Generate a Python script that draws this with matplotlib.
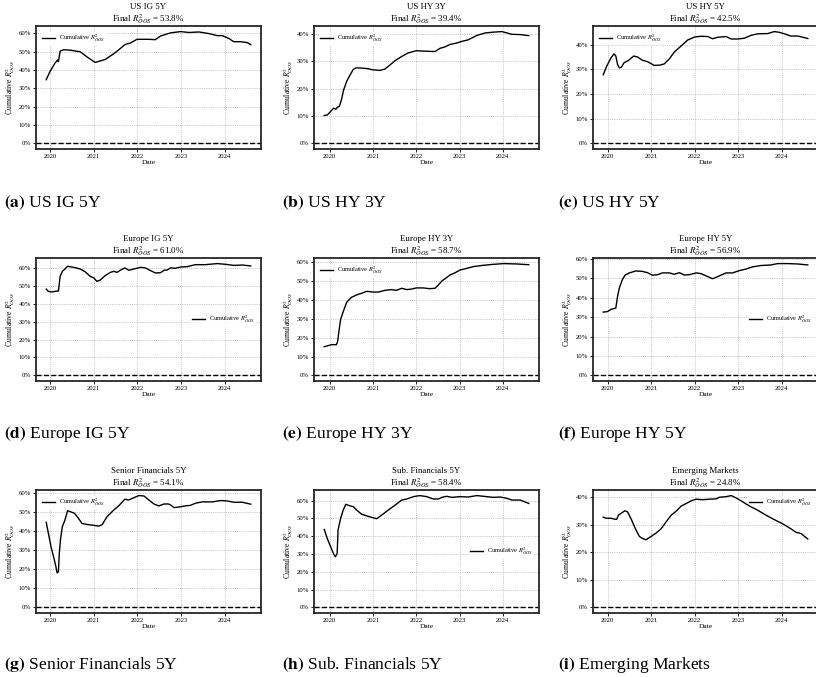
import matplotlib
matplotlib.use("Agg")
import matplotlib.pyplot as plt
import matplotlib.dates as mdates
from matplotlib.ticker import MultipleLocator, PercentFormatter
import pandas as pd

plt.rcParams['font.family'] = ['Liberation Serif', 'DejaVu Serif']
plt.rcParams['mathtext.fontset'] = 'stix'

# dates as decimal years, values as cumulative R2 in %
us_ig5_t = [2019.91, 2020.0, 2020.10, 2020.17, 2020.19, 2020.23, 2020.31, 2020.46, 2020.69, 2020.84,
            2021.03, 2021.26, 2021.49, 2021.72, 2021.84, 2021.99, 2022.26, 2022.41, 2022.53, 2022.76,
            2022.99, 2023.18, 2023.41, 2023.64, 2023.83, 2023.95, 2024.10, 2024.21, 2024.37, 2024.52, 2024.60]
us_ig5_r = [34.7, 39.3, 43.3, 45.5, 44.6, 50.3, 51.0, 50.8, 49.9, 47.2,
            44.1, 45.7, 49.4, 53.9, 54.7, 56.7, 56.7, 56.5, 58.5, 60.2,
            60.9, 60.4, 60.7, 59.8, 58.7, 58.7, 57.1, 55.4, 55.4, 54.9, 53.8]

us_hy3_t = [2019.87, 2019.94, 2020.02, 2020.09, 2020.14, 2020.18, 2020.22, 2020.27, 2020.32, 2020.39,
            2020.46, 2020.54, 2020.60, 2020.69, 2020.85, 2021.0, 2021.16, 2021.27, 2021.39, 2021.51,
            2021.66, 2021.81, 2022.0, 2022.24, 2022.43, 2022.55, 2022.66, 2022.78, 2022.93, 2023.05,
            2023.2, 2023.4, 2023.59, 2023.78, 2023.98, 2024.05, 2024.21, 2024.41, 2024.60]
us_hy3_r = [10.2, 10.4, 11.7, 12.9, 12.5, 13.3, 13.5, 16.0, 19.6, 22.7,
            24.8, 27.0, 27.6, 27.6, 27.4, 26.9, 26.7, 27.2, 28.7, 30.3,
            31.8, 33.1, 33.9, 33.7, 33.6, 34.8, 35.3, 36.2, 36.7, 37.3,
            37.9, 39.5, 40.4, 40.7, 40.9, 40.6, 39.9, 39.8, 39.4]

us_hy5_t = [2019.90, 2019.98, 2020.08, 2020.15, 2020.19, 2020.23, 2020.27, 2020.32, 2020.38, 2020.48,
            2020.60, 2020.69, 2020.80, 2020.92, 2021.07, 2021.19, 2021.30, 2021.42, 2021.53, 2021.69,
            2021.84, 2022.0, 2022.15, 2022.30, 2022.41, 2022.53, 2022.72, 2022.84, 2022.99, 2023.14,
            2023.30, 2023.45, 2023.68, 2023.83, 2023.95, 2024.10, 2024.21, 2024.37, 2024.60]
us_hy5_r = [27.8, 31.3, 34.7, 36.3, 35.4, 32.0, 30.6, 30.9, 32.7, 33.6,
            35.4, 35.0, 33.7, 33.1, 31.6, 31.7, 32.2, 34.3, 37.0, 39.5,
            41.9, 43.1, 43.4, 43.3, 42.4, 43.0, 43.3, 42.3, 42.3, 42.6,
            43.8, 44.4, 44.5, 45.3, 45.0, 44.2, 43.5, 43.5, 42.5]

eu_ig5_t = [2019.91, 2019.96, 2020.04, 2020.15, 2020.19, 2020.23, 2020.28, 2020.34, 2020.40, 2020.54,
            2020.69, 2020.80, 2020.92, 2021.0, 2021.07, 2021.15, 2021.26, 2021.38, 2021.46, 2021.53,
            2021.63, 2021.71, 2021.80, 2021.92, 2022.07, 2022.18, 2022.30, 2022.41, 2022.53, 2022.61,
            2022.68, 2022.76, 2022.87, 2022.99, 2023.14, 2023.33, 2023.56, 2023.83, 2024.02, 2024.21,
            2024.41, 2024.60]
eu_ig5_r = [48.1, 46.8, 46.5, 47.0, 47.0, 55.2, 58.0, 59.3, 60.8, 60.2,
            59.3, 57.8, 55.2, 54.3, 52.4, 53.2, 55.6, 57.4, 58.0, 57.4,
            58.9, 59.9, 58.6, 59.3, 60.2, 59.9, 58.4, 57.1, 57.2, 58.6,
            58.7, 59.9, 59.7, 60.4, 60.6, 61.7, 61.7, 62.3, 61.9, 61.3,
            61.5, 61.0]

eu_hy3_t = [2019.87, 2019.96, 2020.04, 2020.15, 2020.18, 2020.22, 2020.25, 2020.31, 2020.39, 2020.50,
            2020.62, 2020.73, 2020.85, 2021.0, 2021.12, 2021.27, 2021.43, 2021.54, 2021.66, 2021.78,
            2021.89, 2022.0, 2022.16, 2022.30, 2022.43, 2022.51, 2022.59, 2022.66, 2022.78, 2022.90,
            2023.01, 2023.17, 2023.32, 2023.55, 2023.78, 2024.02, 2024.32, 2024.60]
eu_hy3_r = [15.2, 15.8, 16.3, 16.3, 17.9, 25.0, 29.7, 33.8, 38.8, 41.4,
            42.7, 43.5, 44.6, 44.2, 44.2, 45.1, 45.5, 45.1, 46.2, 45.5,
            45.8, 46.4, 46.4, 46.0, 46.2, 48.0, 50.1, 51.2, 53.3, 54.5,
            55.9, 56.8, 57.7, 58.4, 58.9, 59.3, 59.1, 58.7]

eu_hy5_t = [2019.90, 2020.0, 2020.09, 2020.19, 2020.23, 2020.27, 2020.34, 2020.40, 2020.50, 2020.65,
            2020.80, 2020.92, 2021.03, 2021.15, 2021.26, 2021.42, 2021.53, 2021.65, 2021.76, 2021.88,
            2022.04, 2022.15, 2022.30, 2022.41, 2022.49, 2022.61, 2022.72, 2022.87, 2023.03, 2023.18,
            2023.33, 2023.52, 2023.75, 2023.91, 2024.14, 2024.37, 2024.60]
eu_hy5_r = [32.6, 32.9, 34.1, 34.7, 40.7, 45.0, 49.3, 51.6, 52.8, 53.8,
            53.6, 52.9, 51.6, 51.9, 52.8, 52.8, 52.1, 52.9, 51.7, 51.9,
            52.8, 52.4, 50.9, 49.8, 50.5, 51.7, 52.8, 52.8, 54.0, 54.8,
            55.9, 56.6, 56.9, 57.6, 57.6, 57.4, 56.9]

sen_fin_t = [2019.91, 2019.96, 2020.02, 2020.08, 2020.13, 2020.16, 2020.19, 2020.21, 2020.24, 2020.28,
             2020.34, 2020.40, 2020.46, 2020.56, 2020.65, 2020.73, 2020.84, 2021.0, 2021.11, 2021.19,
             2021.30, 2021.46, 2021.57, 2021.71, 2021.80, 2021.92, 2022.03, 2022.15, 2022.26, 2022.38,
             2022.49, 2022.61, 2022.71, 2022.76, 2022.84, 2022.95, 2023.10, 2023.22, 2023.33, 2023.49,
             2023.72, 2023.91, 2024.06, 2024.21, 2024.41, 2024.60]
sen_fin_r = [44.6, 38.8, 31.8, 26.5, 21.6, 18.1, 18.6, 28.2, 36.1, 42.3,
             45.8, 50.7, 50.2, 49.3, 46.7, 44.0, 43.5, 43.0, 42.6, 43.3,
             47.5, 51.1, 53.2, 56.7, 56.3, 57.5, 58.6, 58.4, 56.3, 54.2,
             53.2, 54.2, 54.2, 53.7, 52.3, 52.6, 53.2, 53.5, 54.6, 55.3,
             55.3, 56.0, 55.8, 55.1, 55.1, 54.1]

sub_fin_t = [2019.87, 2019.94, 2020.02, 2020.09, 2020.13, 2020.17, 2020.19, 2020.25, 2020.31, 2020.37,
             2020.46, 2020.54, 2020.62, 2020.73, 2020.89, 2021.0, 2021.08, 2021.20, 2021.35, 2021.51,
             2021.66, 2021.78, 2021.93, 2022.08, 2022.24, 2022.39, 2022.51, 2022.59, 2022.70, 2022.82,
             2023.01, 2023.20, 2023.40, 2023.63, 2023.78, 2023.94, 2024.09, 2024.21, 2024.40, 2024.60]
sub_fin_r = [43.8, 38.7, 34.0, 29.9, 28.4, 30.3, 43.4, 50.0, 54.7, 57.9,
             57.1, 56.6, 54.7, 52.4, 51.1, 50.4, 49.8, 51.9, 54.7, 57.5,
             60.3, 60.9, 62.2, 62.8, 62.2, 60.9, 60.9, 61.8, 62.4, 61.8,
             62.2, 62.0, 62.8, 62.2, 61.8, 62.0, 61.3, 60.3, 60.3, 58.4]

em_t = [2019.90, 2019.96, 2020.08, 2020.15, 2020.21, 2020.25, 2020.34, 2020.40, 2020.46, 2020.54,
        2020.64, 2020.73, 2020.80, 2020.88, 2021.0, 2021.11, 2021.23, 2021.34, 2021.46, 2021.57,
        2021.69, 2021.80, 2021.92, 2022.03, 2022.18, 2022.34, 2022.49, 2022.57, 2022.72, 2022.84,
        2022.91, 2023.07, 2023.26, 2023.45, 2023.64, 2023.83, 2024.02, 2024.21, 2024.33, 2024.44,
        2024.60]
em_r = [32.7, 32.3, 32.3, 32.0, 31.9, 33.4, 34.4, 35.0, 34.6, 32.1,
        28.5, 25.7, 25.0, 24.5, 25.7, 26.9, 28.5, 30.9, 33.4, 34.8,
        36.7, 37.6, 38.6, 39.2, 39.0, 39.2, 39.3, 39.9, 40.1, 40.5,
        40.0, 38.6, 36.7, 35.2, 33.4, 31.8, 30.3, 28.5, 27.2, 26.8,
        24.8]

names = ["US IG 5Y", "US HY 3Y", "US HY 5Y", "Europe IG 5Y", "Europe HY 3Y", "Europe HY 5Y",
         "Senior Financials 5Y", "Sub. Financials 5Y", "Emerging Markets"]
letters = ["a", "b", "c", "d", "e", "f", "g", "h", "i"]
series = [(us_ig5_t, us_ig5_r), (us_hy3_t, us_hy3_r), (us_hy5_t, us_hy5_r),
          (eu_ig5_t, eu_ig5_r), (eu_hy3_t, eu_hy3_r), (eu_hy5_t, eu_hy5_r),
          (sen_fin_t, sen_fin_r), (sub_fin_t, sub_fin_r), (em_t, em_r)]
legend_locs = ["upper left", "upper left", "upper left",
               "center right", "upper left", "center right",
               "upper left", "center right", "upper right"]


def to_dates(years):
    return [pd.Timestamp(int(y), 1, 1) + pd.Timedelta(days=(y - int(y)) * 365.25) for y in years]


W, H = 816, 677
fig = plt.figure(figsize=(W / 100, H / 100), dpi=100)

col_left = [36, 314, 593]
caption_x = [4, 282, 558]
row_top = [26, 258, 490]
caption_y = [203, 434, 665]
ax_w, ax_h = 225, 123

for i, name in enumerate(names):
    r, c = divmod(i, 3)
    ax = fig.add_axes([col_left[c] / W, 1 - (row_top[r] + ax_h) / H, ax_w / W, ax_h / H])
    t, v = series[i]
    # keep the curve above the legend box so it is never hidden
    ax.plot(to_dates(t), v, color='black', lw=1.0, label=r'Cumulative $R^2_{OOS}$', zorder=6)
    ax.axhline(0, color='black', ls='--', lw=1.0)

    ax.set_title(f"{name}\nFinal $R^2_{{OOS}}$ = {v[-1]:.1f}%", fontsize=6.4, pad=0.3, linespacing=1.1)
    ax.set_xlabel('Date', fontsize=5.4, labelpad=1)
    ax.set_ylabel(r'Cumulative $R^2_{OOS}$', fontsize=5.6, labelpad=1)

    ax.xaxis.set_major_locator(mdates.YearLocator())
    ax.xaxis.set_major_formatter(mdates.DateFormatter('%Y'))
    ax.yaxis.set_major_locator(MultipleLocator(10))
    ax.yaxis.set_major_formatter(PercentFormatter(decimals=0))
    ax.tick_params(labelsize=4.9, length=2, width=0.6, pad=1.5)

    ax.grid(True, ls=':', lw=0.5, color='0.6')
    for sp in ax.spines.values():
        sp.set_linewidth(1.3)
        sp.set_color('0.15')

    ax.legend(loc=legend_locs[i], fontsize=4.6, edgecolor='white', framealpha=0.9,
              borderpad=0.1, borderaxespad=0.9, handletextpad=0.6)

    fig.text(caption_x[c] / W, 1 - caption_y[r] / H,
             rf"$\mathbf{{({letters[i]})}}$ {name}", fontsize=12.6, va='center', ha='left')

fig.savefig('out.png', dpi=100)
